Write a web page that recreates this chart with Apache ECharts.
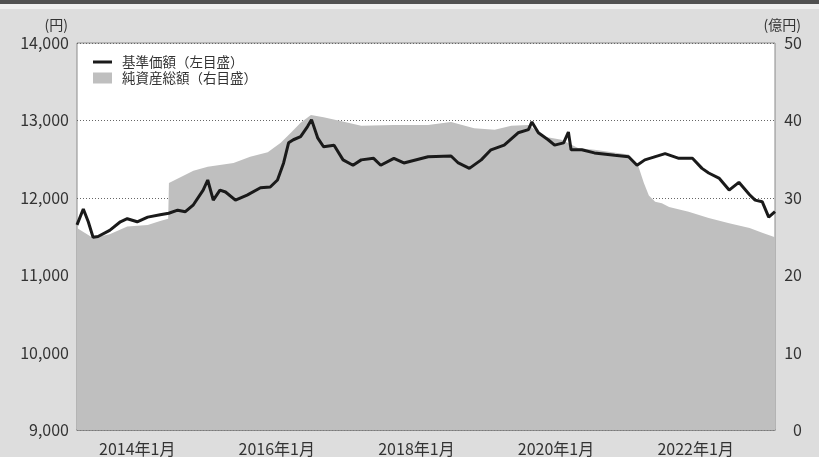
<!DOCTYPE html>
<html>
<head>
<meta charset="utf-8">
<script src="https://cdn.jsdelivr.net/npm/echarts@6/dist/echarts.min.js"></script>
<style>
html,body{margin:0;padding:0;background:#dddddd;}
#chart{width:819px;height:457px;}
</style>
</head>
<body>
<div id="chart"></div>
<script>
// 基準価額 (円, left axis)
const navDates = ['2013-02-20','2013-03-25','2013-04-20','2013-05-15','2013-06-10','2013-08-10','2013-10-05','2013-11-10','2014-01-01','2014-02-25','2014-05-01','2014-06-15','2014-08-01','2014-09-10','2014-10-22','2014-12-12','2015-01-05','2015-02-03','2015-03-10','2015-04-08','2015-05-30','2015-07-30','2015-10-08','2015-11-28','2016-01-05','2016-02-06','2016-03-03','2016-03-28','2016-05-05','2016-06-10','2016-07-01','2016-08-03','2016-09-02','2016-10-27','2016-12-13','2017-02-03','2017-03-18','2017-05-22','2017-06-28','2017-09-05','2017-10-27','2018-03-03','2018-07-01','2018-08-08','2018-10-05','2018-12-06','2019-01-26','2019-04-05','2019-06-17','2019-08-10','2019-08-28','2019-10-01','2019-11-21','2019-12-25','2020-02-10','2020-03-06','2020-03-20','2020-05-15','2020-07-20','2020-11-03','2021-01-15','2021-02-28','2021-04-10','2021-07-25','2021-10-05','2021-12-15','2022-02-03','2022-03-10','2022-05-05','2022-06-25','2022-08-15','2022-10-10','2022-11-08','2022-12-15','2023-01-18','2023-02-20'];
const navValues = [11650,11855,11690,11490,11500,11580,11690,11730,11690,11750,11780,11800,11840,11820,11910,12100,12230,11970,12100,12075,11970,12035,12130,12140,12230,12450,12710,12750,12790,12920,13010,12770,12660,12680,12490,12420,12490,12510,12420,12510,12450,12530,12540,12450,12380,12490,12620,12680,12840,12880,12980,12840,12750,12680,12710,12850,12620,12620,12580,12550,12530,12420,12490,12570,12510,12510,12380,12320,12250,12100,12200,12040,11970,11950,11750,11820];

// 純資産総額 (億円, right axis)
const assetDates = ['2013-02-20','2013-05-15','2013-08-10','2013-11-10','2014-02-25','2014-05-01','2014-06-12','2014-06-16','2014-10-22','2015-01-05','2015-05-20','2015-08-15','2015-11-15','2016-01-22','2016-03-15','2016-05-05','2016-06-28','2016-09-02','2016-11-18','2017-03-18','2017-09-05','2018-03-03','2018-07-01','2018-10-30','2019-02-15','2019-05-12','2019-08-10','2019-11-03','2020-01-30','2020-04-28','2020-07-20','2020-10-20','2021-01-15','2021-03-08','2021-04-05','2021-05-01','2021-06-03','2021-07-08','2021-08-15','2021-11-25','2022-03-10','2022-06-25','2022-10-10','2022-12-15','2023-02-20'];
const assetValues = [26.1,24.8,25.3,26.3,26.5,27.0,27.3,31.9,33.5,34.0,34.5,35.3,35.9,37.1,38.4,39.7,40.7,40.4,40.0,39.3,39.4,39.4,39.8,39.0,38.8,39.3,39.4,37.9,37.5,36.4,36.2,35.9,35.6,34.0,31.9,30.3,29.5,29.3,28.8,28.2,27.4,26.7,26.1,25.5,24.9];

// x-axis tick labels
const tickDates = ['2014-01-01','2016-01-01','2018-01-01','2020-01-01','2022-01-01'];
const tickLabels = ['2014年1月','2016年1月','2018年1月','2020年1月','2022年1月'];

const seriesNames = ['基準価額（左目盛）','純資産総額（右目盛）'];

function ts(d){ return Date.UTC(+d.slice(0,4), +d.slice(5,7)-1, +d.slice(8,10)); }
const tickTs = tickDates.map(ts);

const chart = echarts.init(document.getElementById('chart'), null, {renderer:'canvas'});
const FONT = '"Noto Sans CJK JP", "Noto Sans", sans-serif';

chart.setOption({
  backgroundColor: '#dddddd',
  animation: false,
  textStyle: {fontFamily: FONT},
  graphic: [
    {type:'rect', shape:{x:0,y:0,width:819,height:4}, style:{fill:'#505050'}, silent:true},
    {type:'rect', shape:{x:0,y:4,width:819,height:5}, style:{fill:'#eeeeee'}, silent:true},
    {type:'text', right: 819-68, top: 18, style:{text:'(円)', fill:'#333', font:'14px ' + FONT}},
    {type:'text', right: 819-801, top: 18, style:{text:'(億円)', fill:'#333', font:'14px ' + FONT}}
  ],
  grid: {left:77, right:44, top:43, bottom:27, show:true, backgroundColor:'#ffffff', borderColor:'#8a8a8a', borderWidth:1, containLabel:false},
  legend: {
    left: 88, top: 50, orient:'vertical', itemGap: 2, itemWidth: 19, itemHeight: 11,
    textStyle: {fontFamily: FONT, fontSize: 13.5, color:'#333', lineHeight: 14, padding:[0,0,0,5]},
    data: [
      {name: seriesNames[0], icon:'path://M0,0 M19,11 M0,4 L19,4 L19,7 L0,7 Z', itemStyle:{color:'#1a1a1a'}},
      {name: seriesNames[1], icon:'rect', itemStyle:{color:'#bfbfbf'}}
    ]
  },
  xAxis: {
    type:'value', min: ts('2013-02-20'), max: ts('2023-02-20'),
    axisLine:{show:true, lineStyle:{color:'#808080', width:1.5}},
    axisTick:{show:true, inside:true, length:5, customValues: tickTs, lineStyle:{color:'#808080'}},
    axisLabel:{show:true, customValues: tickTs, margin: 11, fontSize:16, color:'#333', fontFamily:FONT,
      formatter: function(v){ let best=0, bd=Infinity; tickTs.forEach((t,i)=>{const d=Math.abs(t-v); if(d<bd){bd=d;best=i;}}); return tickLabels[best]; }},
    splitLine:{show:false}
  },
  yAxis: [
    {type:'value', min:9000, max:14000, interval:1000, position:'left',
     axisLine:{show:false}, axisTick:{show:false},
     axisLabel:{margin:8, fontSize:16, color:'#333', fontFamily:FONT, formatter: v => v.toLocaleString('en-US')},
     splitLine:{show:true, lineStyle:{color:'#666', type:[1,2], width:1}}},
    {type:'value', min:0, max:50, interval:10, position:'right',
     axisLine:{show:false}, axisTick:{show:false},
     axisLabel:{margin:27, align:'right', fontSize:16, color:'#333', fontFamily:FONT},
     splitLine:{show:false}}
  ],
  series: [
    {name: seriesNames[1], type:'line', yAxisIndex:1, symbol:'none', z:1,
     data: assetDates.map((d,i)=>[ts(d), assetValues[i]]),
     itemStyle:{color:'#bfbfbf'}, lineStyle:{width:0, color:'#bfbfbf'},
     areaStyle:{color:'#bfbfbf', opacity:1}},
    {name: seriesNames[0], type:'line', yAxisIndex:0, symbol:'none', z:3,
     data: navDates.map((d,i)=>[ts(d), navValues[i]]),
     itemStyle:{color:'#1a1a1a'}, lineStyle:{width:3, color:'#1a1a1a'}}
  ]
});
</script>
</body>
</html>
